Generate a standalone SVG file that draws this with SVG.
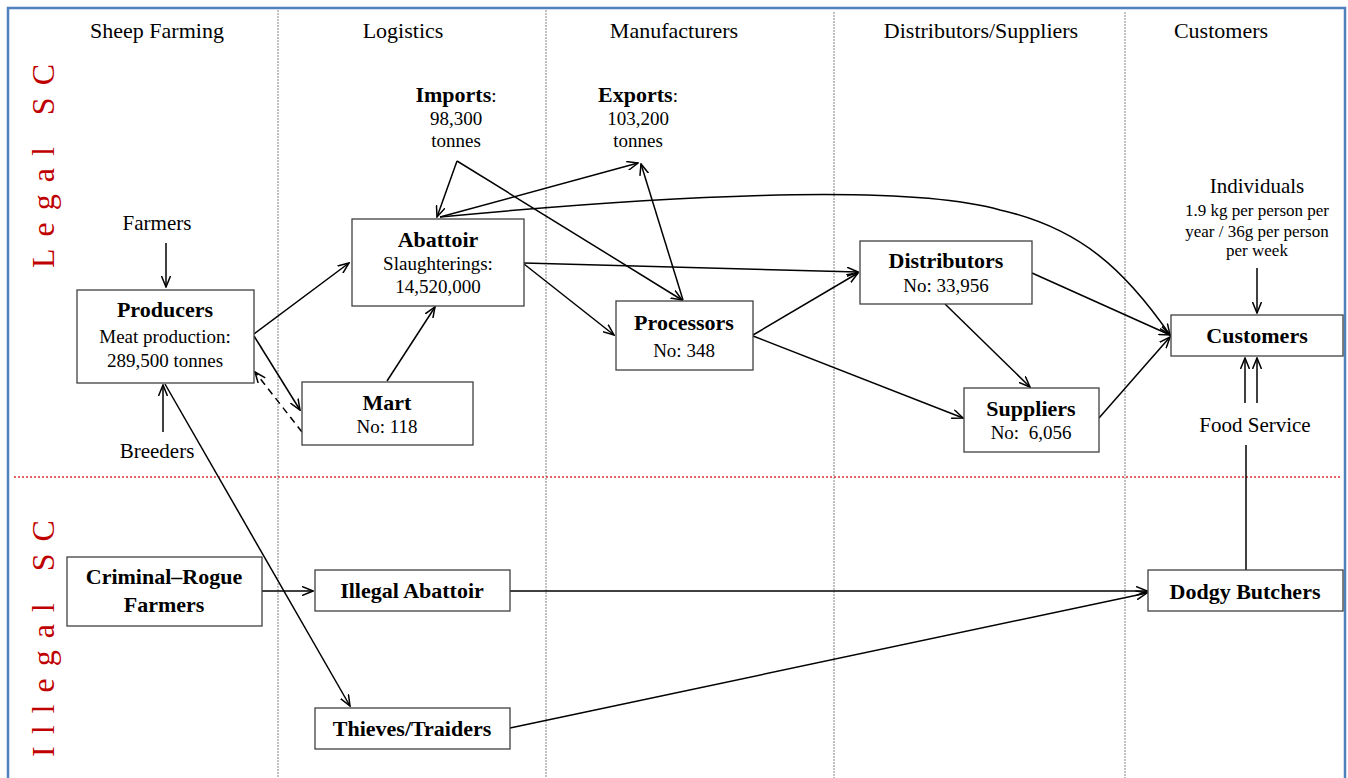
<svg xmlns="http://www.w3.org/2000/svg" width="1348" height="778" viewBox="0 0 1348 778">
<defs>
<style>
text{font-family:"Liberation Serif","Times New Roman",serif;fill:#000}
.hd{font-size:22px;text-anchor:middle}
.t{font-size:22px;font-weight:bold;text-anchor:middle}
.s{font-size:19px;text-anchor:middle}
.xs{font-size:17px;text-anchor:middle}
.lbl{font-size:21px;text-anchor:middle}
.side{font-size:32px;fill:#c00000;letter-spacing:12px}
.box{fill:#fff;stroke:#404040;stroke-width:1.3}
.c{fill:none;stroke:#000;stroke-width:1.5}
.div{stroke:#9a9a9a;stroke-width:1.2;stroke-dasharray:2 1}
</style>
<marker id="a" viewBox="0 0 12 10" refX="11" refY="5" markerWidth="12" markerHeight="10" markerUnits="userSpaceOnUse" orient="auto">
<path d="M0,0.5 L11,5 L0,9.5" fill="none" stroke="#000" stroke-width="1.5"/>
</marker>
</defs>
<rect width="1348" height="778" fill="#fff"/>
<g id="frame">
<path d="M8,778 V8 H1345 V778" fill="none" stroke="#4f81bd" stroke-width="2.5"/>
<line class="div" x1="278" y1="10" x2="278" y2="778"/>
<line class="div" x1="546" y1="10" x2="546" y2="778"/>
<line class="div" x1="834" y1="12" x2="834" y2="778"/>
<line class="div" x1="1125" y1="12" x2="1125" y2="778"/>
<line x1="14" y1="477" x2="1340" y2="477" stroke="#e03030" stroke-width="1.3" stroke-dasharray="2 2"/>
<text class="hd" x="157" y="38">Sheep Farming</text>
<text class="hd" x="403" y="38">Logistics</text>
<text class="hd" x="674" y="38">Manufacturers</text>
<text class="hd" x="981" y="38">Distributors/Suppliers</text>
<text class="hd" x="1221" y="38">Customers</text>
<text class="side" transform="translate(54,268) rotate(-90)">Legal SC</text>
<text class="side" transform="translate(54,757) rotate(-90)">Illegal SC</text>
</g>
<g id="connectors">
<line class="c" x1="166" y1="243" x2="166" y2="287" marker-end="url(#a)"/>
<line class="c" x1="163" y1="432" x2="163" y2="385" marker-end="url(#a)"/>
<line class="c" x1="254" y1="334" x2="349" y2="263" marker-end="url(#a)"/>
<line class="c" x1="254" y1="336" x2="300" y2="410" marker-end="url(#a)"/>
<line class="c" x1="302" y1="432" x2="255" y2="372" marker-end="url(#a)" stroke-dasharray="7 5"/>
<line class="c" x1="387" y1="381" x2="435" y2="307" marker-end="url(#a)"/>
<line class="c" x1="457" y1="161" x2="437" y2="217" marker-end="url(#a)"/>
<line class="c" x1="457" y1="161" x2="682" y2="300" marker-end="url(#a)"/>
<line class="c" x1="440" y1="217" x2="638" y2="163" marker-end="url(#a)"/>
<line class="c" x1="683" y1="300" x2="641" y2="164" marker-end="url(#a)"/>
<path class="c" d="M440,217 C650,197 900,182 1000,210 C1080,228 1125,270 1170,335" marker-end="url(#a)"/>
<line class="c" x1="524" y1="263" x2="858" y2="272" marker-end="url(#a)"/>
<line class="c" x1="524" y1="264" x2="614" y2="335" marker-end="url(#a)"/>
<line class="c" x1="753" y1="335" x2="858" y2="273" marker-end="url(#a)"/>
<line class="c" x1="753" y1="336" x2="963" y2="418" marker-end="url(#a)"/>
<line class="c" x1="945" y1="304" x2="1030" y2="387" marker-end="url(#a)"/>
<line class="c" x1="1032" y1="273" x2="1170" y2="335" marker-end="url(#a)"/>
<line class="c" x1="1099" y1="418" x2="1170" y2="337" marker-end="url(#a)"/>
<line class="c" x1="1257" y1="268" x2="1257" y2="313" marker-end="url(#a)"/>
<line class="c" x1="1245" y1="403" x2="1245" y2="358" marker-end="url(#a)"/>
<line class="c" x1="1257" y1="403" x2="1257" y2="358" marker-end="url(#a)"/>
<line class="c" x1="1246" y1="445" x2="1246" y2="570"/>
<line class="c" x1="165" y1="384" x2="350" y2="706" marker-end="url(#a)"/>
<line class="c" x1="262" y1="591" x2="313" y2="591" marker-end="url(#a)"/>
<line class="c" x1="510" y1="591" x2="1147" y2="591" marker-end="url(#a)"/>
<line class="c" x1="510" y1="728" x2="1147" y2="593" marker-end="url(#a)"/>
</g>
<g id="farmers"><text class="lbl" x="157" y="230">Farmers</text></g>
<g id="breeders"><text class="lbl" x="157" y="458">Breeders</text></g>
<g id="imports">
<text class="s" x="456" y="102"><tspan font-weight="bold" font-size="22">Imports</tspan>:</text>
<text class="s" x="456" y="125">98,300</text>
<text class="s" x="456" y="147">tonnes</text>
</g>
<g id="exports">
<text class="s" x="638" y="102"><tspan font-weight="bold" font-size="22">Exports</tspan>:</text>
<text class="s" x="638" y="125">103,200</text>
<text class="s" x="638" y="147">tonnes</text>
</g>
<g id="individuals">
<text class="lbl" x="1257" y="193" font-size="22">Individuals</text>
<text class="xs" x="1257" y="216">1.9 kg per person per</text>
<text class="xs" x="1257" y="237">year / 36g per person</text>
<text class="xs" x="1257" y="256">per week</text>
</g>
<g id="food-service"><text class="lbl" x="1255" y="432">Food Service</text></g>
<g id="producers">
<rect class="box" x="77" y="290" width="177" height="93"/>
<text class="t" x="165" y="317">Producers</text>
<text class="s" x="165" y="343">Meat production:</text>
<text class="s" x="165" y="367">289,500 tonnes</text>
</g>
<g id="abattoir">
<rect class="box" x="352" y="219" width="172" height="87"/>
<text class="t" x="438" y="247">Abattoir</text>
<text class="s" x="438" y="270">Slaughterings:</text>
<text class="s" x="438" y="293">14,520,000</text>
</g>
<g id="mart">
<rect class="box" x="302" y="382" width="171" height="63"/>
<text class="t" x="387" y="410">Mart</text>
<text class="s" x="387" y="433">No: 118</text>
</g>
<g id="processors">
<rect class="box" x="616" y="301" width="137" height="69"/>
<text class="t" x="684" y="330">Processors</text>
<text class="s" x="684" y="357">No: 348</text>
</g>
<g id="distributors">
<rect class="box" x="860" y="241" width="172" height="63"/>
<text class="t" x="946" y="268">Distributors</text>
<text class="s" x="946" y="292">No: 33,956</text>
</g>
<g id="suppliers">
<rect class="box" x="964" y="388" width="135" height="64"/>
<text class="t" x="1031" y="416">Suppliers</text>
<text class="s" x="1031" y="439" style="white-space:pre">No:  6,056</text>
</g>
<g id="customers">
<rect class="box" x="1171" y="315" width="172" height="41"/>
<text class="t" x="1257" y="343">Customers</text>
</g>
<g id="criminal-rogue-farmers">
<rect class="box" x="67" y="557" width="195" height="69"/>
<text class="t" x="164" y="584">Criminal–Rogue</text>
<text class="t" x="164" y="612">Farmers</text>
</g>
<g id="illegal-abattoir">
<rect class="box" x="315" y="570" width="195" height="41"/>
<text class="t" x="412" y="598">Illegal Abattoir</text>
</g>
<g id="thieves-traiders">
<rect class="box" x="315" y="708" width="195" height="41"/>
<text class="t" x="412" y="736">Thieves/Traiders</text>
</g>
<g id="dodgy-butchers">
<rect class="box" x="1148" y="570" width="195" height="41"/>
<text class="t" x="1245" y="599">Dodgy Butchers</text>
</g>
</svg>
